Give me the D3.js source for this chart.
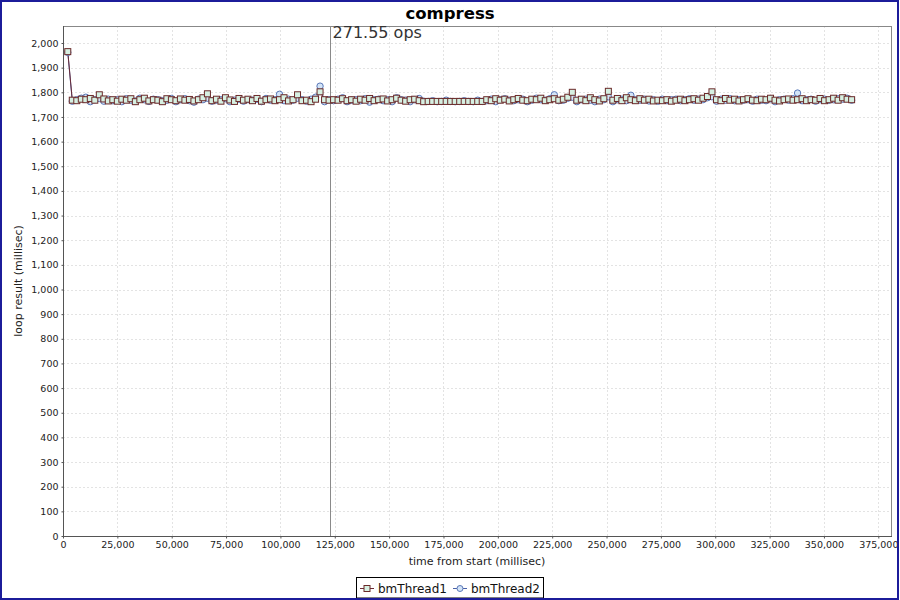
<!DOCTYPE html>
<html>
<head>
<meta charset="utf-8">
<script src="https://cdn.jsdelivr.net/npm/d3@7"></script>
<style>
  body { margin: 0; background: #fff; }
  svg { display: block; }
</style>
</head>
<body>
<div id="chart"></div>
<script>
// sample times (ms from start)
const times = [
  2200, 4272, 6344, 8416, 10488, 12560, 14632, 16704, 18776, 20848,
  22920, 24992, 27064, 29136, 31208, 33280, 35352, 37424, 39496, 41568,
  43640, 45712, 47784, 49856, 51928, 54000, 56072, 58144, 60216, 62288,
  64360, 66432, 68504, 70576, 72648, 74720, 76792, 78864, 80936, 83008,
  85080, 87152, 89224, 91296, 93368, 95440, 97512, 99584, 101656, 103728,
  105800, 107872, 109944, 112016, 114088, 116160, 118232, 120304, 122376, 124448,
  126520, 128592, 130664, 132736, 134808, 136880, 138952, 141024, 143096, 145168,
  147240, 149312, 151384, 153456, 155528, 157600, 159672, 161744, 163816, 165888,
  167960, 170032, 172104, 174176, 176248, 178320, 180392, 182464, 184536, 186608,
  188680, 190752, 192824, 194896, 196968, 199040, 201112, 203184, 205256, 207328,
  209400, 211472, 213544, 215616, 217688, 219760, 221832, 223904, 225976, 228048,
  230120, 232192, 234264, 236336, 238408, 240480, 242552, 244624, 246696, 248768,
  250840, 252912, 254984, 257056, 259128, 261200, 263272, 265344, 267416, 269488,
  271560, 273632, 275704, 277776, 279848, 281920, 283992, 286064, 288136, 290208,
  292280, 294352, 296424, 298496, 300568, 302640, 304712, 306784, 308856, 310928,
  313000, 315072, 317144, 319216, 321288, 323360, 325432, 327504, 329576, 331648,
  333720, 335792, 337864, 339936, 342008, 344080, 346152, 348224, 350296, 352368,
  354440, 356512, 358584, 360656, 362728
];

// loop result (ms) per thread
const thread1 = [
  1965, 1768, 1766, 1772, 1770, 1775, 1768, 1790, 1773, 1765,
  1770, 1764, 1772, 1768, 1774, 1762, 1770, 1776, 1765, 1770,
  1768, 1762, 1774, 1770, 1766, 1773, 1768, 1771, 1765, 1770,
  1778, 1794, 1766, 1772, 1764, 1778, 1769, 1763, 1775, 1768,
  1772, 1766, 1775, 1764, 1770, 1773, 1766, 1770, 1778, 1765,
  1770, 1790, 1766, 1768, 1762, 1772, 1802, 1770, 1768, 1770,
  1768, 1774, 1766, 1770, 1764, 1772, 1768, 1775, 1766, 1770,
  1773, 1765, 1770, 1776, 1768, 1764, 1770, 1772, 1766, 1762,
  1763, 1763, 1763, 1763, 1763, 1763, 1763, 1763, 1763, 1763,
  1763, 1763, 1763, 1770, 1766, 1774, 1768, 1772, 1765, 1770,
  1775, 1768, 1766, 1772, 1770, 1776, 1766, 1770, 1774, 1768,
  1772, 1780, 1800, 1768, 1772, 1766, 1778, 1770, 1765, 1774,
  1804, 1768, 1775, 1766, 1778, 1770, 1766, 1774, 1768, 1772,
  1765, 1768, 1766, 1770, 1764, 1768, 1772, 1766, 1770, 1774,
  1768, 1776, 1783, 1802, 1770, 1766, 1775, 1768, 1772, 1765,
  1770, 1774, 1768, 1766, 1772, 1770, 1776, 1768, 1765, 1770,
  1773, 1768, 1770, 1774, 1766, 1770, 1768, 1775, 1766, 1770,
  1776, 1768, 1778, 1772, 1770
];
const thread2 = [
  1962, 1764, 1770, 1776, 1780, 1762, 1770, 1775, 1764, 1772,
  1766, 1770, 1762, 1774, 1768, 1765, 1776, 1770, 1763, 1772,
  1770, 1766, 1768, 1775, 1762, 1770, 1774, 1766, 1760, 1772,
  1770, 1776, 1764, 1768, 1770, 1774, 1762, 1768, 1772, 1764,
  1770, 1768, 1772, 1762, 1775, 1768, 1770, 1792, 1766, 1772,
  1768, 1776, 1770, 1764, 1772, 1780, 1825, 1762, 1770, 1766,
  1772, 1778, 1762, 1768, 1770, 1766, 1774, 1760, 1770, 1772,
  1766, 1770, 1762, 1778, 1770, 1768, 1762, 1770, 1775, 1764,
  1763, 1766, 1762, 1763, 1768, 1763, 1762, 1763, 1766, 1763,
  1762, 1768, 1763, 1766, 1772, 1762, 1770, 1774, 1768, 1766,
  1770, 1772, 1762, 1768, 1776, 1770, 1768, 1774, 1790, 1766,
  1768, 1776, 1780, 1762, 1770, 1772, 1768, 1762, 1772, 1770,
  1782, 1762, 1770, 1772, 1766, 1788, 1770, 1768, 1772, 1765,
  1770, 1764, 1772, 1766, 1770, 1772, 1766, 1770, 1774, 1768,
  1772, 1770, 1778, 1782, 1764, 1772, 1768, 1774, 1766, 1770,
  1768, 1770, 1764, 1772, 1768, 1766, 1774, 1762, 1770, 1772,
  1768, 1774, 1797, 1766, 1770, 1772, 1764, 1770, 1772, 1768,
  1770, 1774, 1772, 1776, 1768
];

const seriesNames = ['bmThread1', 'bmThread2'];
const markerTime = 122600;
const markerLabel = '271.55 ops';
const xTicks = d3.range(0, 375001, 25000);
const yTicks = d3.range(0, 2001, 100);

const width = 900, height = 600;
const plot = {left: 63, right: 892, top: 26, bottom: 536};
const font = "'DejaVu Sans', sans-serif";

const svg = d3.select('#chart')
  .append('svg')
  .attr('width', width)
  .attr('height', height)
  .style('background-color', '#fff');

// scales
const x = d3.scaleLinear().domain([0, 381300]).range([plot.left, plot.right]);
const y = d3.scaleLinear().domain([0, 2069]).range([plot.bottom, plot.top]);

// title
svg.append('text')
  .attr('x', 450).attr('y', 19)
  .attr('text-anchor', 'middle')
  .attr('font-family', font)
  .attr('font-weight', 'bold')
  .attr('font-size', '16.5px')
  .text('compress');

// grid lines
const grid = svg.append('g')
  .attr('stroke', '#d0d0d0')
  .attr('stroke-width', 0.6)
  .attr('stroke-dasharray', '2,2');
grid.selectAll('.gx')
  .data(xTicks.slice(1))
  .enter()
  .append('line')
    .attr('x1', d => Math.round(x(d)) + 0.5).attr('x2', d => Math.round(x(d)) + 0.5)
    .attr('y1', plot.top).attr('y2', plot.bottom);
grid.selectAll('.gy')
  .data(yTicks.slice(1))
  .enter()
  .append('line')
    .attr('x1', plot.left).attr('x2', plot.right)
    .attr('y1', d => Math.round(y(d)) + 0.5).attr('y2', d => Math.round(y(d)) + 0.5);

// plot outline
svg.append('rect')
  .attr('x', plot.left + 0.5).attr('y', plot.top + 0.5)
  .attr('width', plot.right - plot.left - 1)
  .attr('height', plot.bottom - plot.top)
  .attr('fill', 'none')
  .attr('stroke', '#888');

// axes
const xAxis = d3.axisBottom(x)
  .tickValues(xTicks)
  .tickSize(2)
  .tickPadding(3)
  .tickFormat(d3.format(','));
const yAxis = d3.axisLeft(y)
  .tickValues(yTicks)
  .tickSize(2)
  .tickPadding(3)
  .tickFormat(d3.format(','));

svg.append('g')
  .attr('transform', `translate(0,${plot.bottom + 0.5})`)
  .call(xAxis)
  .call(g => g.select('.domain').attr('stroke', '#555').attr('d', `M${plot.left},0H${plot.right}`))
  .call(g => g.selectAll('line').attr('stroke', '#555'))
  .call(g => g.selectAll('text').attr('font-family', font).attr('font-size', '9.5px').attr('fill', '#222'));

svg.append('g')
  .attr('transform', `translate(${plot.left + 0.5},0)`)
  .call(yAxis)
  .call(g => g.select('.domain').attr('stroke', '#555').attr('d', `M0,${plot.top}V${plot.bottom}`))
  .call(g => g.selectAll('line').attr('stroke', '#555'))
  .call(g => g.selectAll('text').attr('font-family', font).attr('font-size', '9.5px').attr('fill', '#222'));

// axis labels
svg.append('text')
  .attr('x', 477).attr('y', 565)
  .attr('text-anchor', 'middle')
  .attr('font-family', font)
  .attr('font-size', '11px')
  .attr('fill', '#222')
  .text('time from start (millisec)');
svg.append('text')
  .attr('transform', `translate(22,${(plot.top + plot.bottom) / 2}) rotate(-90)`)
  .attr('text-anchor', 'middle')
  .attr('font-family', font)
  .attr('font-size', '11px')
  .attr('fill', '#222')
  .text('loop result (millisec)');

// marker line + label
svg.append('line')
  .attr('x1', Math.round(x(markerTime)) + 0.5).attr('x2', Math.round(x(markerTime)) + 0.5)
  .attr('y1', plot.top).attr('y2', plot.bottom)
  .attr('stroke', '#8a8a8a')
  .attr('stroke-width', 1);
svg.append('text')
  .attr('x', x(markerTime) + 3).attr('y', 38)
  .attr('font-family', font)
  .attr('font-size', '16px')
  .attr('fill', '#333')
  .text(markerLabel);

// series
const pts1 = times.map((t, i) => ({t: t, v: thread1[i]}));
const pts2 = times.map((t, i) => ({t: t, v: thread2[i]}));
const line = d3.line().x(d => x(d.t)).y(d => y(d.v));

const colors = {
  line1: '#6b2a35', sq: '#6b2a2a', sqFill: '#d6f0e2',
  line2: '#4a62a8', circ: '#5a78b8', circFill: '#d3e4f7'
};

svg.append('path')
  .datum(pts2)
  .attr('d', line)
  .attr('fill', 'none')
  .attr('stroke', colors.line2)
  .attr('stroke-width', 1);
svg.append('path')
  .datum(pts1)
  .attr('d', line)
  .attr('fill', 'none')
  .attr('stroke', colors.line1)
  .attr('stroke-width', 1);

svg.append('g')
  .selectAll('circle')
  .data(pts2)
  .enter()
  .append('circle')
    .attr('cx', d => x(d.t))
    .attr('cy', d => y(d.v))
    .attr('r', 3.2)
    .attr('fill', colors.circFill)
    .attr('stroke', colors.circ)
    .attr('stroke-width', 1);

svg.append('g')
  .selectAll('rect')
  .data(pts1)
  .enter()
  .append('rect')
    .attr('x', d => x(d.t) - 3)
    .attr('y', d => y(d.v) - 3)
    .attr('width', 6)
    .attr('height', 6)
    .attr('fill', colors.sqFill)
    .attr('stroke', colors.sq)
    .attr('stroke-width', 1);

// legend
const legend = svg.append('g');
legend.append('rect')
  .attr('x', 356.5).attr('y', 577.5)
  .attr('width', 187).attr('height', 20.5)
  .attr('fill', '#fff')
  .attr('stroke', '#000');

const legendItems = [
  {name: seriesNames[0], x0: 360, shape: 'rect', line: colors.line1, stroke: colors.sq, fill: colors.sqFill},
  {name: seriesNames[1], x0: 453, shape: 'circle', line: colors.line2, stroke: colors.circ, fill: colors.circFill}
];
const li = legend.selectAll('g.item')
  .data(legendItems)
  .enter()
  .append('g')
  .attr('transform', d => `translate(${d.x0},588)`);
li.append('line')
  .attr('x1', 0).attr('x2', 14)
  .attr('y1', 0.5).attr('y2', 0.5)
  .attr('stroke', d => d.line);
li.filter(d => d.shape === 'rect')
  .append('rect')
    .attr('x', 4).attr('y', -2.5)
    .attr('width', 6).attr('height', 6)
    .attr('fill', d => d.fill)
    .attr('stroke', d => d.stroke);
li.filter(d => d.shape === 'circle')
  .append('circle')
    .attr('cx', 7).attr('cy', 0.5)
    .attr('r', 3)
    .attr('fill', d => d.fill)
    .attr('stroke', d => d.stroke);
li.append('text')
  .attr('x', 18).attr('y', 4.5)
  .attr('font-family', font)
  .attr('font-size', '12px')
  .attr('fill', '#111')
  .text(d => d.name);

// outer frame
svg.append('rect')
  .attr('x', 1).attr('y', 1)
  .attr('width', width - 3).attr('height', height - 2)
  .attr('fill', 'none')
  .attr('stroke', '#1c1c9a')
  .attr('stroke-width', 2);
</script>
</body>
</html>
